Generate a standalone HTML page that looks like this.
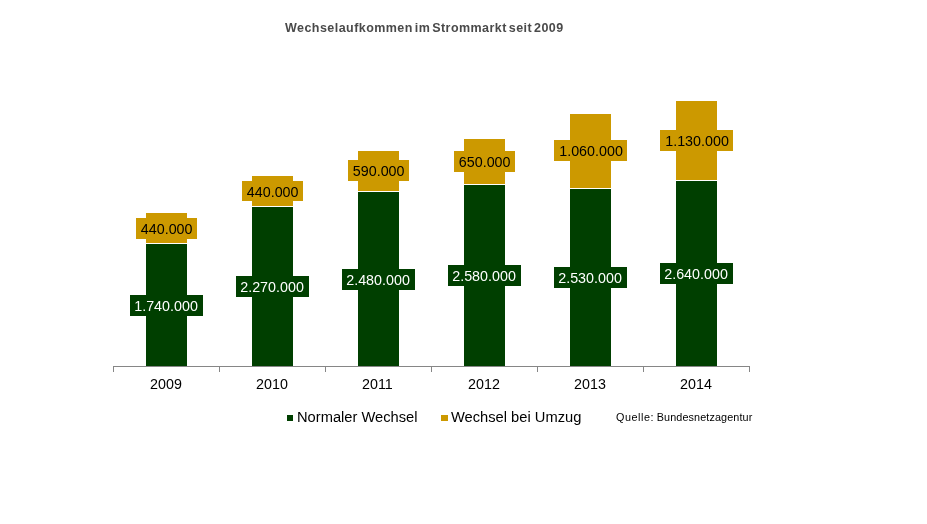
<!DOCTYPE html>
<html lang="de"><head><meta charset="utf-8"><title>Wechselaufkommen im Strommarkt seit 2009</title>
<style>
html,body{margin:0;padding:0;background:#fff;}
body{width:927px;height:524px;position:relative;overflow:hidden;font-family:"Liberation Sans",sans-serif;}
.a{position:absolute;}
.g{background:#003F00;}
.y{background:#CC9900;}
.l{position:absolute;font-size:15.3px;line-height:21px;text-align:center;white-space:nowrap;}
.l span,.t span{display:inline-block;position:relative;transform:scaleX(0.96);}
.t span{transform-origin:0 50%;}
.c span{transform-origin:50% 50%;transform:scaleX(0.935);}
.l span{transform:scaleX(0.935);}
.l.g{color:#fff;}
.l.y{color:#000;}
.t{position:absolute;font-size:15.3px;line-height:17px;color:#000;white-space:nowrap;}
.ax{background:#868686;}
</style></head><body>
<div class="a" id="title" style="left:285px;top:20px;font-size:12.5px;line-height:17px;font-weight:bold;color:#4a4a4a;white-space:nowrap;letter-spacing:0.45px;word-spacing:-2px;">Wechselaufkommen im Strommarkt seit 2009</div>
<div class="a y" style="left:146px;top:213px;width:41px;height:30px"></div><div class="a g" style="left:146px;top:244px;width:41px;height:122px"></div><div class="l y" style="left:136px;top:218px;width:61px;height:21px"><span>440.000</span></div><div class="l g" style="left:130px;top:295px;width:73px;height:21px"><span>1.740.000</span></div><div class="t c" style="left:126px;top:375px;width:81px;text-align:center"><span>2009</span></div>
<div class="a y" style="left:252px;top:176px;width:41px;height:30px"></div><div class="a g" style="left:252px;top:207px;width:41px;height:159px"></div><div class="l y" style="left:242px;top:181px;width:61px;height:20px"><span>440.000</span></div><div class="l g" style="left:236px;top:276px;width:73px;height:21px"><span>2.270.000</span></div><div class="t c" style="left:232px;top:375px;width:81px;text-align:center"><span>2010</span></div>
<div class="a y" style="left:358px;top:151px;width:41px;height:40px"></div><div class="a g" style="left:358px;top:192px;width:41px;height:174px"></div><div class="l y" style="left:348px;top:160px;width:61px;height:21px"><span>590.000</span></div><div class="l g" style="left:342px;top:269px;width:73px;height:21px"><span>2.480.000</span></div><div class="t c" style="left:337px;top:375px;width:81px;text-align:center"><span>2011</span></div>
<div class="a y" style="left:464px;top:139px;width:41px;height:45px"></div><div class="a g" style="left:464px;top:185px;width:41px;height:181px"></div><div class="l y" style="left:454px;top:151px;width:61px;height:21px"><span>650.000</span></div><div class="l g" style="left:448px;top:265px;width:73px;height:21px"><span>2.580.000</span></div><div class="t c" style="left:444px;top:375px;width:81px;text-align:center"><span>2012</span></div>
<div class="a y" style="left:570px;top:114px;width:41px;height:74px"></div><div class="a g" style="left:570px;top:189px;width:41px;height:177px"></div><div class="l y" style="left:554px;top:140px;width:73px;height:21px"><span style="left:1px">1.060.000</span></div><div class="l g" style="left:554px;top:267px;width:73px;height:21px"><span>2.530.000</span></div><div class="t c" style="left:550px;top:375px;width:81px;text-align:center"><span>2013</span></div>
<div class="a y" style="left:676px;top:101px;width:41px;height:79px"></div><div class="a g" style="left:676px;top:181px;width:41px;height:185px"></div><div class="l y" style="left:660px;top:130px;width:73px;height:21px"><span style="left:1px">1.130.000</span></div><div class="l g" style="left:660px;top:263px;width:73px;height:21px"><span>2.640.000</span></div><div class="t c" style="left:656px;top:375px;width:81px;text-align:center"><span>2014</span></div>
<div class="a ax" style="left:113px;top:366px;width:637px;height:1px"></div><div class="a ax" style="left:113px;top:366px;width:1px;height:6px"></div><div class="a ax" style="left:219px;top:366px;width:1px;height:6px"></div><div class="a ax" style="left:325px;top:366px;width:1px;height:6px"></div><div class="a ax" style="left:431px;top:366px;width:1px;height:6px"></div><div class="a ax" style="left:537px;top:366px;width:1px;height:6px"></div><div class="a ax" style="left:643px;top:366px;width:1px;height:6px"></div><div class="a ax" style="left:749px;top:366px;width:1px;height:6px"></div>
<div class="a g" style="left:287px;top:415px;width:6px;height:6px"></div><div class="t" id="lg1" style="left:297px;top:408px"><span>Normaler Wechsel</span></div><div class="a y" style="left:441px;top:415px;width:7px;height:6px"></div><div class="t" id="lg2" style="left:451px;top:408px"><span>Wechsel bei Umzug</span></div><div class="a" id="src" style="left:616px;top:410px;font-size:10.8px;line-height:14px;color:#000;white-space:nowrap;letter-spacing:0.12px;word-spacing:-0.5px;"><span style="letter-spacing:0.55px">Quelle:</span> Bundesnetzagentur</div>
</body></html>
